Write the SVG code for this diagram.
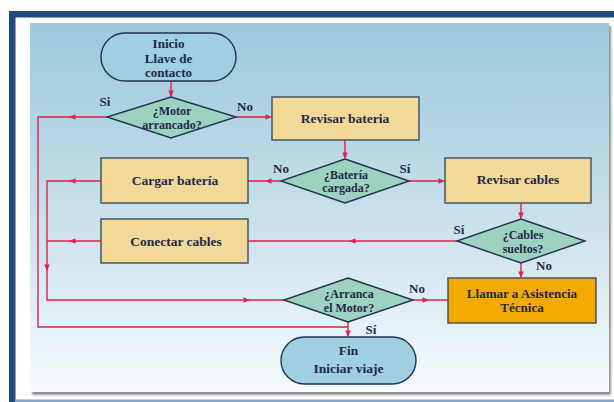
<svg xmlns="http://www.w3.org/2000/svg" xmlns:xlink="http://www.w3.org/1999/xlink" width="614" height="402" viewBox="0 0 614 402">
  <defs>
    <linearGradient id="panelGrad" x1="0" y1="0" x2="0" y2="1">
      <stop offset="0" stop-color="#9cc8dd"/>
      <stop offset="0.5" stop-color="#c6dfea"/>
      <stop offset="1" stop-color="#f6fbfd"/>
    </linearGradient>
    <filter id="panelShadow" x="-5%" y="-5%" width="110%" height="110%">
      <feGaussianBlur in="SourceAlpha" stdDeviation="1.2"/>
      <feOffset dx="1.5" dy="2.5" result="b"/>
      <feComponentTransfer><feFuncA type="linear" slope="0.45"/></feComponentTransfer>
      <feMerge><feMergeNode/><feMergeNode in="SourceGraphic"/></feMerge>
    </filter>
    <path id="ah" d="M0,0 L-6.5,-2.8 L-6.5,2.8 Z" fill="#e0224c"/>
  </defs>
  <style>
    .term { fill: #a0cfe1; stroke: #23324f; stroke-width: 1.4; }
    .dec { fill: #9dd1c0; stroke: #23324f; stroke-width: 1.4; }
    .proc { fill: #f2d998; stroke: #3e4a60; stroke-width: 1.4; }
    .alert { fill: #f2aa00; stroke: #3e4a60; stroke-width: 1.4; }
    .conn { fill: none; stroke: #e0224c; stroke-width: 1.4; }
    text { font-family: "Liberation Serif", "Times New Roman", serif; font-weight: bold; font-size: 13.5px; fill: #1d2848; text-anchor: middle; }
    .ttxt { font-size: 13px; }
    .dtxt { font-size: 12px; }
    .lbl { font-size: 13px; }
  </style>

  <!-- frame -->
  <rect x="0" y="0" width="614" height="402" fill="#ffffff"/>
  <rect x="9" y="11" width="605" height="6.5" fill="#1f4a80"/>
  <rect x="9" y="11" width="6.5" height="391" fill="#1f4a80"/>
  <rect x="15" y="399.5" width="599" height="2.5" fill="#8aa3c4"/>
  <rect x="30" y="23" width="579" height="369" fill="url(#panelGrad)" filter="url(#panelShadow)"/>

  <!-- connectors -->
  <g id="connectors">
    <path class="conn" d="M171,81 V96"/>
    <path class="conn" d="M107,117 H38 V327 H348"/>
    <path class="conn" d="M236,117 H271"/>
    <path class="conn" d="M345,140 V158"/>
    <path class="conn" d="M281,181 H248"/>
    <path class="conn" d="M409,181 H444"/>
    <path class="conn" d="M101,181 H47 V300 H284"/>
    <path class="conn" d="M521,203 V218"/>
    <path class="conn" d="M457,241 H248"/>
    <path class="conn" d="M101,241 H47"/>
    <path class="conn" d="M521,263 V277"/>
    <path class="conn" d="M413,300 H448"/>
    <path class="conn" d="M348,322 V336"/>
    <use xlink:href="#ah" transform="translate(171,97) rotate(90)"/>
    <use xlink:href="#ah" transform="translate(69,117) rotate(180)"/>
    <use xlink:href="#ah" transform="translate(272,117)"/>
    <use xlink:href="#ah" transform="translate(345,159) rotate(90)"/>
    <use xlink:href="#ah" transform="translate(265,181) rotate(180)"/>
    <use xlink:href="#ah" transform="translate(445,181)"/>
    <use xlink:href="#ah" transform="translate(69,181) rotate(180)"/>
    <use xlink:href="#ah" transform="translate(521,219) rotate(90)"/>
    <use xlink:href="#ah" transform="translate(349,241) rotate(180)"/>
    <use xlink:href="#ah" transform="translate(69,241) rotate(180)"/>
    <use xlink:href="#ah" transform="translate(47,271) rotate(90)"/>
    <use xlink:href="#ah" transform="translate(521,278) rotate(90)"/>
    <use xlink:href="#ah" transform="translate(250,300)"/>
    <use xlink:href="#ah" transform="translate(429,300)"/>
    <use xlink:href="#ah" transform="translate(348,337) rotate(90)"/>
    <text class="lbl" x="105" y="106">Si</text>
    <text class="lbl" x="245" y="111">No</text>
    <text class="lbl" x="281" y="173">No</text>
    <text class="lbl" x="405" y="173">Sí</text>
    <text class="lbl" x="459" y="234">Sí</text>
    <text class="lbl" x="544" y="270">No</text>
    <text class="lbl" x="417" y="293">No</text>
    <text class="lbl" x="371" y="334">Sí</text>
  </g>

  <g id="inicio">
    <rect class="term" x="101" y="33" width="135" height="48" rx="24" ry="24"/>
    <text class="ttxt" x="168.5" y="47.5">Inicio</text>
    <text class="ttxt" x="168.5" y="62.5">Llave de<tspan x="168.5" dy="14.5">contacto</tspan></text>
  </g>

  <g id="motor-arrancado">
    <polygon class="dec" points="171,97 236,117 171,138 107,117"/>
    <text class="dtxt" x="172" y="115">¿Motor<tspan x="172" dy="13.5">arrancado?</tspan></text>
  </g>

  <g id="revisar-bateria">
    <rect class="proc" x="272" y="97" width="147" height="43"/>
    <text x="345" y="123">Revisar bateria</text>
  </g>

  <g id="bateria-cargada">
    <polygon class="dec" points="345,159 409,181 345,203 281,181"/>
    <text class="dtxt" x="346" y="178.5">¿Batería<tspan x="346" dy="13.5">cargada?</tspan></text>
  </g>

  <g id="cargar-bateria">
    <rect class="proc" x="101" y="158" width="147" height="45"/>
    <text x="175" y="185">Cargar batería</text>
  </g>

  <g id="revisar-cables">
    <rect class="proc" x="445" y="158" width="146" height="45"/>
    <text x="518" y="184">Revisar cables</text>
  </g>

  <g id="cables-sueltos">
    <polygon class="dec" points="521,219 585,241 521,263 457,241"/>
    <text class="dtxt" x="523" y="239">¿Cables<tspan x="523" dy="13.5">sueltos?</tspan></text>
  </g>

  <g id="conectar-cables">
    <rect class="proc" x="101" y="219" width="147" height="44"/>
    <text x="176" y="246">Conectar cables</text>
  </g>

  <g id="arranca-motor">
    <polygon class="dec" points="348,278 413,300 348,322 284,300"/>
    <text class="dtxt" x="349" y="298">¿Arranca<tspan x="349" dy="13.5">el Motor?</tspan></text>
  </g>

  <g id="llamar-asistencia">
    <rect class="alert" x="448" y="278" width="148" height="45"/>
    <text class="ttxt" x="522" y="297.5">Llamar a Asistencia<tspan x="522" dy="14.5">Técnica</tspan></text>
  </g>

  <g id="fin">
    <rect class="term" x="281" y="337" width="135" height="47" rx="23.5" ry="23.5"/>
    <text x="348.5" y="355">Fin</text>
    <text x="348.5" y="373">Iniciar viaje</text>
  </g>
</svg>
